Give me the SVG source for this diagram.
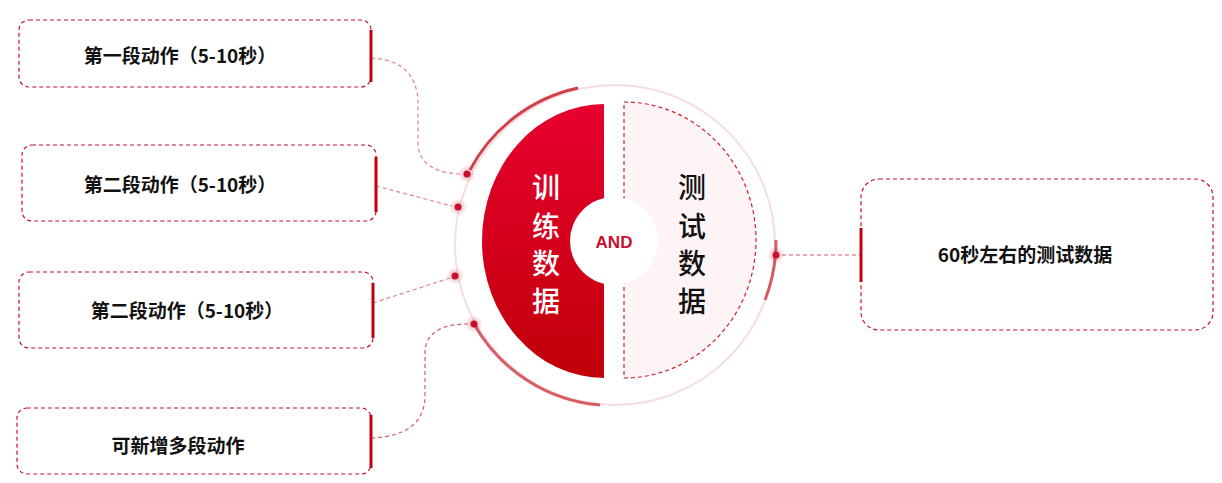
<svg xmlns="http://www.w3.org/2000/svg" width="1222" height="483" viewBox="0 0 1222 483">
<defs>
<linearGradient id="rg" x1="0" y1="0" x2="0" y2="1"><stop offset="0" stop-color="#e8002f"/><stop offset="1" stop-color="#c00008"/></linearGradient>
<radialGradient id="glow"><stop offset="0" stop-color="#c8102e" stop-opacity="0.35"/><stop offset="1" stop-color="#c8102e" stop-opacity="0"/></radialGradient>
</defs>
<style>
.box{fill:#fff;stroke:#c8102e;stroke-width:1.2;stroke-dasharray:4 3}
.bar{stroke:#c00010;stroke-width:3}
.t{font-family:"Noto Sans CJK SC",sans-serif;font-weight:bold;font-size:19px;fill:#111;text-anchor:middle;dominant-baseline:central}
.con{fill:none;stroke:#d03040;stroke-width:1.2;stroke-dasharray:4 3}
.dot{fill:#c8102e}
.big{font-family:"Noto Sans CJK SC",sans-serif;font-size:28px;font-weight:500;text-anchor:middle;dominant-baseline:central}
</style>
<g id="ring-g">
<circle cx="615" cy="245" r="160" fill="none" stroke="#f5dde0" stroke-width="2"/>
<path d="M 578 88 A 160 160 0 0 0 470 170" fill="none" stroke="#c8202a" stroke-width="3" opacity="0.85"/>
<path d="M 474 324 A 160 160 0 0 0 600 405" fill="none" stroke="#c8202a" stroke-width="3" opacity="0.7"/>
<path d="M 776 240 A 160 160 0 0 1 765 300" fill="none" stroke="#c8202a" stroke-width="3" opacity="0.7"/>
</g>
<g id="train">
<path d="M 604 104 A 122 137 0 0 0 604 378 Z" fill="url(#rg)"/>
<text class="big" x="546" y="186" fill="#fff">训</text>
<text class="big" x="546" y="225" fill="#fff">练</text>
<text class="big" x="546" y="262" fill="#fff">数</text>
<text class="big" x="546" y="300" fill="#fff">据</text>
</g>
<g id="test">
<path d="M 624 102 A 132 138 0 0 1 624 378 Z" fill="#fff4f5" stroke="#d02030" stroke-width="1.2" stroke-dasharray="4 3"/>
<text class="big" x="692" y="186" fill="#111">测</text>
<text class="big" x="692" y="225" fill="#111">试</text>
<text class="big" x="692" y="262" fill="#111">数</text>
<text class="big" x="692" y="300" fill="#111">据</text>
</g>
<g id="and">
<circle cx="614" cy="241" r="44" fill="#fff"/>
<text x="614" y="242" font-family="Liberation Sans,sans-serif" font-weight="bold" font-size="17" fill="#c8102e" text-anchor="middle" dominant-baseline="central">AND</text>
</g>
<g id="connectors">
<path class="con" d="M 371 58 Q 415 60 418 100 L 418 145 Q 420 172 460 174" opacity="0.6"/>
<path class="con" d="M 376 186 L 452 206" opacity="0.6"/>
<path class="con" d="M 373 303 L 450 278" opacity="0.6"/>
<path class="con" d="M 371 438 Q 425 436 425 395 L 425 350 Q 428 324 468 324" opacity="0.8"/>
<path class="con" d="M 782 255 L 861 255" opacity="0.8"/>
<circle cx="467" cy="174" r="9" fill="url(#glow)"/><circle class="dot" cx="467" cy="174" r="3.5"/>
<circle cx="458" cy="207" r="9" fill="url(#glow)"/><circle class="dot" cx="458" cy="207" r="3.5"/>
<circle cx="455" cy="276" r="9" fill="url(#glow)"/><circle class="dot" cx="455" cy="276" r="3.5"/>
<circle cx="474" cy="324" r="9" fill="url(#glow)"/><circle class="dot" cx="474" cy="324" r="3.5"/>
<circle cx="776" cy="255" r="9" fill="url(#glow)"/><circle class="dot" cx="776" cy="255" r="3.5"/>
</g>
<g id="n1"><rect class="box" x="19" y="20" width="352" height="67" rx="10"/><line class="bar" x1="371" y1="30" x2="371" y2="82"/><text class="t" x="180" y="54">第一段动作（5-10秒）</text></g>
<g id="n2"><rect class="box" x="22" y="145" width="354" height="76" rx="10"/><line class="bar" x1="376" y1="157" x2="376" y2="212"/><text class="t" x="180" y="183">第二段动作（5-10秒）</text></g>
<g id="n3"><rect class="box" x="19" y="272" width="354" height="76" rx="10"/><line class="bar" x1="373" y1="283" x2="373" y2="338"/><text class="t" x="187" y="309">第二段动作（5-10秒）</text></g>
<g id="n4"><rect class="box" x="17" y="408" width="354" height="66" rx="10"/><line class="bar" x1="371" y1="415" x2="371" y2="468"/><text class="t" x="178" y="444">可新增多段动作</text></g>
<g id="n5"><rect class="box" x="861" y="179" width="352" height="151" rx="18"/><line class="bar" x1="861" y1="228" x2="861" y2="282"/><text class="t" x="1025" y="253">60秒左右的测试数据</text></g>
</svg>
